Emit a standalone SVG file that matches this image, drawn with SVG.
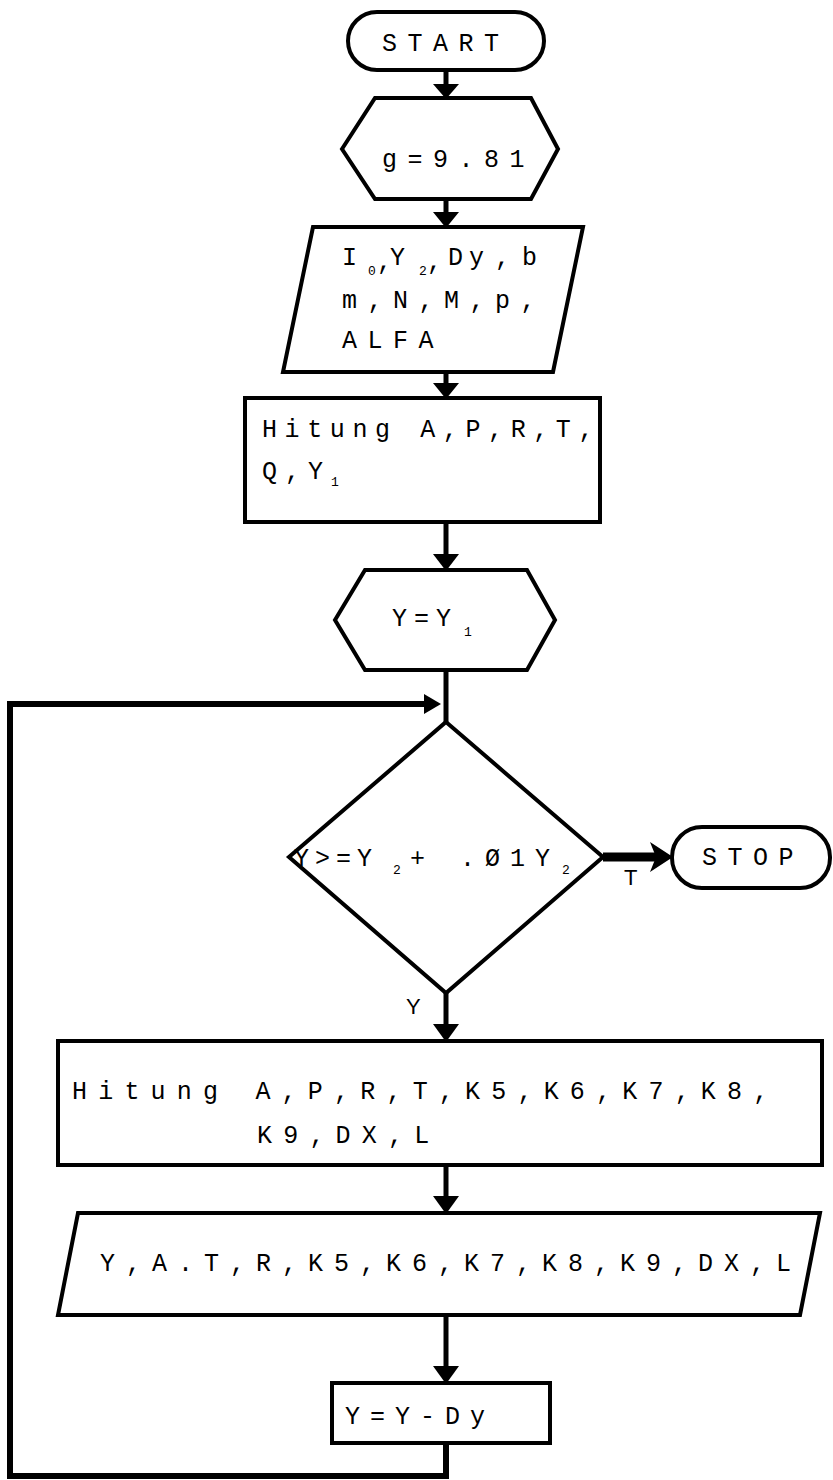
<svg xmlns="http://www.w3.org/2000/svg" width="833" height="1480" viewBox="0 0 833 1480">
  <style>
    .box { fill: #fff; stroke: #000; stroke-width: 4; stroke-linejoin: miter; }
    .t { font-family: "Liberation Mono", "DejaVu Sans Mono", monospace; font-size: 25px; fill: #000; letter-spacing: 10.5px; }
    .sub { font-size: 13px; letter-spacing: 2px; }
    .lbl { font-family: "Liberation Sans", "DejaVu Sans", sans-serif; font-size: 22px; fill: #000; }
    .wire { fill: none; stroke: #000; stroke-width: 5; stroke-linejoin: miter; }
    .head { fill: #000; }
  </style>
  <rect x="0" y="0" width="833" height="1480" fill="#fff"/>

  <!-- connectors -->
  <g id="connectors">
    <!-- START -> g -->
    <line class="wire" x1="446" y1="70" x2="446" y2="86"/>
    <polygon class="head" points="433,84 459,84 446,99"/>
    <!-- g -> input -->
    <line class="wire" x1="446" y1="199" x2="446" y2="214"/>
    <polygon class="head" points="433,212 459,212 446,228"/>
    <!-- input -> hitung 1 -->
    <line class="wire" x1="446" y1="372" x2="446" y2="385"/>
    <polygon class="head" points="433,383 459,383 446,399"/>
    <!-- hitung 1 -> Y=Y1 -->
    <line class="wire" x1="446" y1="522" x2="446" y2="556"/>
    <polygon class="head" points="433,554 459,554 446,571"/>
    <!-- Y=Y1 -> decision -->
    <line class="wire" x1="446" y1="670" x2="446" y2="723"/>
    <!-- decision -> STOP (T) -->
    <line x1="603" y1="857" x2="656" y2="857" stroke="#000" stroke-width="9"/>
    <polygon class="head" points="650,842 673,857 650,872 656,857"/>
    <!-- decision -> hitung 2 (Y) -->
    <line class="wire" x1="446" y1="993" x2="446" y2="1026"/>
    <polygon class="head" points="433,1024 459,1024 446,1042"/>
    <!-- hitung 2 -> output -->
    <line class="wire" x1="446" y1="1165" x2="446" y2="1198"/>
    <polygon class="head" points="433,1196 459,1196 446,1214"/>
    <!-- output -> Y=Y-Dy -->
    <line class="wire" x1="446" y1="1315" x2="446" y2="1368"/>
    <polygon class="head" points="433,1366 459,1366 446,1384"/>
    <!-- loop back to the decision -->
    <path class="wire" d="M446,1443 V1476 H10 V704 H426" style="stroke-width:6px"/>
    <polygon class="head" points="424,694 441,704 424,714"/>
    <text class="lbl" x="624" y="885">T</text>
    <text class="lbl" x="406" y="1014">Y</text>
  </g>

  <g id="start">
    <rect class="box" x="348" y="12" width="196" height="58" rx="29"/>
    <text class="t" x="382" y="51">START</text>
  </g>

  <g id="init-g">
    <polygon class="box" points="342,149 375,98 531,98 558,149 531,199 375,199"/>
    <text class="t" x="382" y="167">g=9.81</text>
  </g>

  <g id="input">
    <polygon class="box" points="313,227 583,227 553,372 283,372"/>
    <text class="t" x="342" y="265" style="letter-spacing:0">I<tspan class="sub" x="368" dy="10">0</tspan><tspan x="377" dy="-6">,</tspan><tspan x="390" dy="-4">Y</tspan><tspan class="sub" x="419" dy="10">2</tspan><tspan x="427" dy="-6">,</tspan><tspan x="448 469 495 522" dy="-4">Dy,b</tspan></text>
    <text class="t" x="342" y="308">m,N,M,p,</text>
    <text class="t" x="342" y="348">ALFA</text>
  </g>

  <g id="hitung-1">
    <rect class="box" x="245" y="398" width="355" height="124"/>
    <text class="t" x="262" y="437" style="letter-spacing:7.6px">Hitung A,P,R,T,</text>
    <text class="t" x="262" y="479" style="letter-spacing:8px">Q,Y<tspan class="sub" dy="7">1</tspan></text>
  </g>

  <g id="init-y">
    <polygon class="box" points="335,620 365,570 527,570 555,620 527,670 365,670"/>
    <text class="t" x="392" y="626" style="letter-spacing:7px">Y=Y<tspan class="sub" x="464" dy="10">1</tspan></text>
  </g>

  <g id="decision">
    <polygon class="box" points="446,722 603,857 446,993 289,857"/>
    <text class="t" x="294" y="866" style="letter-spacing:6px">Y&gt;=Y<tspan class="sub" x="393" dy="8">2</tspan><tspan x="410" dy="-8" style="letter-spacing:10px">+ .Ø1Y</tspan><tspan class="sub" x="562" dy="8">2</tspan></text>
  </g>

  <g id="stop">
    <rect class="box" x="672" y="827" width="158" height="61" rx="30"/>
    <text class="t" x="702" y="865">STOP</text>
  </g>

  <g id="hitung-2">
    <rect class="box" x="58" y="1041" width="764" height="124"/>
    <text class="t" x="72" y="1099" style="letter-spacing:11.2px">Hitung A,P,R,T,K5,K6,K7,K8,</text>
    <text class="t" x="257" y="1143" style="letter-spacing:11.2px">K9,DX,L</text>
  </g>

  <g id="output">
    <polygon class="box" points="78,1213 820,1213 800,1315 58,1315"/>
    <text class="t" x="100" y="1271" style="letter-spacing:11px">Y,A.T,R,K5,K6,K7,K8,K9,DX,L</text>
  </g>

  <g id="step">
    <rect class="box" x="332" y="1383" width="218" height="60"/>
    <text class="t" x="345" y="1424" style="letter-spacing:10px">Y=Y-Dy</text>
  </g>
</svg>
